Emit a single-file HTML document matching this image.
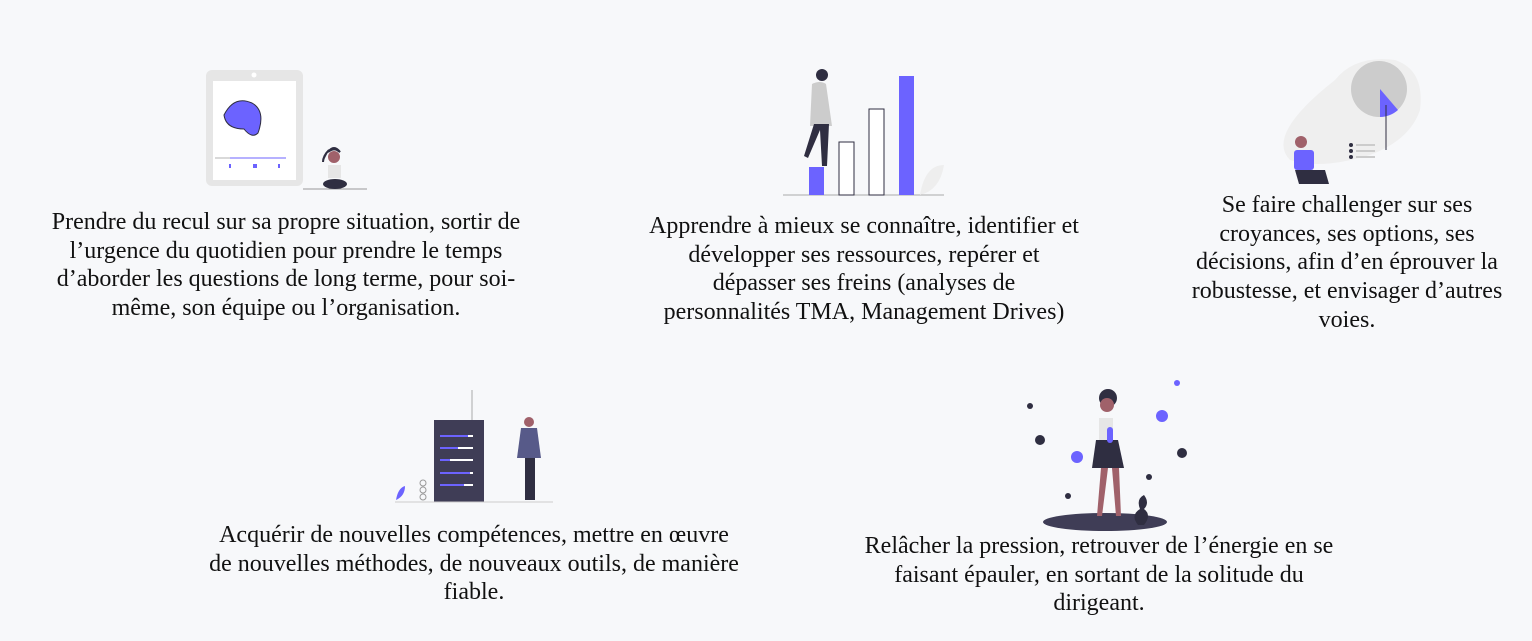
<!DOCTYPE html>
<html><head><meta charset="utf-8"><style>
html,body{margin:0;padding:0;width:1532px;height:641px;background:#f7f8fa;overflow:hidden;position:relative}
.t{position:absolute;font-family:"Liberation Serif",serif;font-size:24px;line-height:28.7px;color:#111;text-align:center;white-space:nowrap;transform:translateX(-50%)}
svg{position:absolute;left:0;top:0}
</style></head><body>
<svg width="1532" height="641">
<rect x="206" y="70" width="97" height="116" rx="6" fill="#e6e6e6"/>
<rect x="213" y="81" width="83" height="99" fill="#fff"/>
<circle cx="254" cy="75" r="2.5" fill="#fff"/>
<path d="M224 115 q10 -20 28 -12 q14 8 6 30 q-6 6 -14 -4 q-18 0 -20 -14z" fill="#6c63ff" stroke="#2f2e41" stroke-width="1"/>
<line x1="215" y1="158" x2="286" y2="158" stroke="#6c63ff" stroke-width="1"/>
<line x1="215" y1="158" x2="230" y2="158" stroke="#ccc" stroke-width="1.5"/>
<rect x="229" y="164" width="2" height="4" fill="#6c63ff"/><rect x="253" y="164" width="4" height="4" fill="#6c63ff"/><rect x="278" y="164" width="2" height="4" fill="#6c63ff"/>
<line x1="303" y1="189" x2="367" y2="189" stroke="#999" stroke-width="1"/>
<circle cx="334" cy="157" r="6" fill="#a0616a"/>
<path d="M328 152 q6 -8 12 0 l-3 -2 q-4 -2 -9 2z M329 150 q-6 6 -6 12" fill="#2f2e41" stroke="#2f2e41" stroke-width="2"/>
<rect x="328" y="165" width="13" height="13" fill="#e6e6e6"/>
<ellipse cx="335" cy="184" rx="12" ry="5" fill="#2f2e41"/>
<line x1="783" y1="195" x2="944" y2="195" stroke="#aaa" stroke-width="1"/>
<rect x="809" y="167" width="15" height="28" fill="#6c63ff"/>
<rect x="839" y="142" width="15" height="53" fill="#fff" stroke="#2f2e41"/>
<rect x="869" y="109" width="15" height="86" fill="#fff" stroke="#2f2e41"/>
<rect x="899" y="76" width="15" height="119" fill="#6c63ff"/>
<path d="M920 195 q5 -30 24 -30 q-4 25 -24 30z" fill="#eee"/>
<circle cx="822" cy="75" r="6" fill="#2f2e41"/>
<path d="M812 84 q8 -4 14 0 l6 42 h-22z" fill="#ccc"/>
<path d="M814 124 l-10 32 4 2 12 -28 2 36 5 0 2 -42z" fill="#2f2e41"/>
<path d="M1335 80 q20 -25 60 -20 q30 10 25 50 q-10 30 -50 45 q-50 15 -80 5 q-25 -25 45 -80z" fill="#efefef"/>
<circle cx="1379" cy="89" r="28" fill="#ccc"/>
<path d="M1380 89 L1380 117 A28 28 0 0 0 1398 110 Z" fill="#6c63ff"/>
<line x1="1386" y1="105" x2="1386" y2="150" stroke="#2f2e41"/>
<circle cx="1351" cy="145" r="2" fill="#2f2e41"/><circle cx="1351" cy="151" r="2" fill="#2f2e41"/><circle cx="1351" cy="157" r="2" fill="#2f2e41"/>
<line x1="1356" y1="145" x2="1375" y2="145" stroke="#ccc" stroke-width="2"/><line x1="1356" y1="151" x2="1375" y2="151" stroke="#ccc" stroke-width="2"/><line x1="1356" y1="157" x2="1375" y2="157" stroke="#ccc" stroke-width="2"/>
<circle cx="1301" cy="142" r="6" fill="#a0616a"/>
<rect x="1294" y="150" width="20" height="20" rx="3" fill="#6c63ff"/>
<path d="M1295 170 h30 l4 14 h-30z" fill="#2f2e41"/>
<line x1="472" y1="390" x2="472" y2="420" stroke="#aaa"/>
<rect x="434" y="420" width="50" height="82" fill="#3f3d56"/>
<g stroke-width="2">
<line x1="440" y1="436" x2="473" y2="436" stroke="#fff"/><line x1="440" y1="436" x2="468" y2="436" stroke="#6c63ff"/>
<line x1="440" y1="448" x2="473" y2="448" stroke="#fff"/><line x1="440" y1="448" x2="458" y2="448" stroke="#6c63ff"/>
<line x1="440" y1="460" x2="473" y2="460" stroke="#fff"/><line x1="440" y1="460" x2="450" y2="460" stroke="#6c63ff"/>
<line x1="440" y1="473" x2="473" y2="473" stroke="#fff"/><line x1="440" y1="473" x2="470" y2="473" stroke="#6c63ff"/>
<line x1="440" y1="485" x2="473" y2="485" stroke="#fff"/><line x1="440" y1="485" x2="464" y2="485" stroke="#6c63ff"/>
</g>
<line x1="395" y1="502" x2="553" y2="502" stroke="#ccc"/>
<path d="M396 500 q2 -12 9 -14 q0 10 -9 14z" fill="#6c63ff"/>
<circle cx="423" cy="483" r="3" fill="none" stroke="#999"/><circle cx="423" cy="490" r="3" fill="none" stroke="#999"/><circle cx="423" cy="497" r="3" fill="none" stroke="#999"/>
<circle cx="529" cy="422" r="5" fill="#a0616a"/>
<path d="M521 428 h16 l4 30 h-24z" fill="#575a89"/>
<rect x="525" y="458" width="10" height="42" fill="#2f2e41"/>
<ellipse cx="1105" cy="522" rx="62" ry="9" fill="#3f3d56"/>
<circle cx="1108" cy="398" r="9" fill="#2f2e41"/>
<circle cx="1107" cy="405" r="7" fill="#a0616a"/>
<rect x="1099" y="418" width="14" height="22" fill="#e6e6e6"/>
<path d="M1096 440 h22 l6 28 h-32z" fill="#2f2e41"/>
<path d="M1101 468 l-4 48 h5 l6 -48z M1112 468 l4 48 h5 l-2 -48z" fill="#a0616a"/>
<rect x="1107" y="427" width="6" height="16" rx="3" fill="#6c63ff"/>
<path d="M1138 525 q-8 -10 2 -16 q-4 -10 4 -14 q6 8 0 14 q8 6 0 16z" fill="#2f2e41"/>
<g fill="#2f2e41"><circle cx="1030" cy="406" r="3"/><circle cx="1040" cy="440" r="5"/><circle cx="1068" cy="496" r="3"/><circle cx="1182" cy="453" r="5"/><circle cx="1149" cy="477" r="3"/></g>
<g fill="#6c63ff"><circle cx="1177" cy="383" r="3"/><circle cx="1162" cy="416" r="6"/><circle cx="1077" cy="457" r="6"/></g>
</svg>
<div class="t" style="left:286px;top:208px">Prendre du recul sur sa propre situation, sortir de<br>l’urgence du quotidien pour prendre le temps<br>d’aborder les questions de long terme, pour soi-<br>même, son équipe ou l’organisation.</div>
<div class="t" style="left:864px;top:212px">Apprendre à mieux se connaître, identifier et<br>développer ses ressources, repérer et<br>dépasser ses freins (analyses de<br>personnalités TMA, Management Drives)</div>
<div class="t" style="left:1347px;top:191px">Se faire challenger sur ses<br>croyances, ses options, ses<br>décisions, afin d’en éprouver la<br>robustesse, et envisager d’autres<br>voies.</div>
<div class="t" style="left:474px;top:521px">Acquérir de nouvelles compétences, mettre en œuvre<br>de nouvelles méthodes, de nouveaux outils, de manière<br>fiable.</div>
<div class="t" style="left:1099px;top:532px">Relâcher la pression, retrouver de l’énergie en se<br>faisant épauler, en sortant de la solitude du<br>dirigeant.</div>
</body></html>
